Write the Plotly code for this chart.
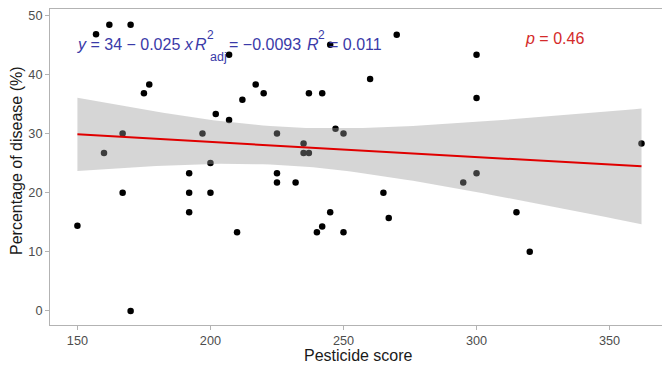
import numpy as np
import plotly.graph_objects as go

pesticide_score = [150, 157, 162, 170, 160, 167, 167, 170, 175, 177,
                   192, 192, 192, 197, 200, 200, 202, 207, 207, 210,
                   212, 217, 220, 225, 225, 225, 232, 237, 242, 235,
                   235, 237, 245, 270, 260, 247, 250, 265, 245, 242,
                   240, 250, 267, 300, 300, 362, 300, 295, 315, 320]
disease_pct = [14.4, 46.8, 48.4, 48.4, 26.7, 30.0, 20.0, 0.0, 36.8, 38.3,
               23.3, 20.0, 16.7, 30.0, 25.0, 20.0, 33.3, 32.3, 43.3, 13.3,
               35.7, 38.3, 36.8, 30.0, 23.3, 21.7, 21.7, 36.8, 36.8, 28.3,
               26.7, 26.7, 45.0, 46.7, 39.2, 30.8, 30.0, 20.0, 16.7, 14.3,
               13.3, 13.3, 15.7, 43.3, 36.0, 28.3, 23.3, 21.7, 16.7, 10.0]

x_ticks = [150, 200, 250, 300, 350]
y_ticks = [0, 10, 20, 30, 40, 50]

x_title = "Pesticide score"
y_title = "Percentage of disease (%)"

x = np.array(pesticide_score, dtype=float)
y = np.array(disease_pct, dtype=float)
n = len(x)
b1, b0 = np.polyfit(x, y, 1)
xs = np.linspace(x.min(), x.max(), 80)
ys = b0 + b1 * xs
resid = y - (b0 + b1 * x)
s = np.sqrt(np.sum(resid ** 2) / (n - 2))
xbar = x.mean()
sxx = np.sum((x - xbar) ** 2)
tcrit = 2.0106
se = s * np.sqrt(1.0 / n + (xs - xbar) ** 2 / sxx)
lo = ys - tcrit * se
hi = ys + tcrit * se

fig = go.Figure()
fig.add_trace(go.Scatter(x=x, y=y, mode="markers",
                         marker=dict(color="black", size=6.5), showlegend=False))
fig.add_trace(go.Scatter(x=xs, y=lo, mode="lines", line=dict(width=0),
                         showlegend=False, hoverinfo="skip"))
fig.add_trace(go.Scatter(x=xs, y=hi, mode="lines", line=dict(width=0),
                         fill="tonexty", fillcolor="rgba(153,153,153,0.4)",
                         showlegend=False, hoverinfo="skip"))
fig.add_trace(go.Scatter(x=xs, y=ys, mode="lines",
                         line=dict(color="#e00000", width=2), showlegend=False))

L, T, W, H = 50, 9, 612, 316


def px(xp):
    return (xp - L) / W


def py(yp):
    return 1 - (yp - T) / H


blue = "#3a3aa8"
font = "Liberation Sans, Arial, sans-serif"


def label(xp, yp, text, color, size, anchor="left", angle=0):
    fig.add_annotation(xref="paper", yref="paper", x=px(xp), y=py(yp),
                       xanchor=anchor, yanchor="middle", showarrow=False,
                       text=text, textangle=angle, borderpad=0,
                       font=dict(color=color, size=size, family=font))


label(76, 45, "<i>y</i> = 34 − 0.025 <i>x</i>", blue, 16)
label(194, 45, "<i>R</i>", blue, 16)
label(206, 35, "2", blue, 12)
label(209, 57, "adj", blue, 12.5)
label(228, 45, "= −0.0093", blue, 16)
label(306, 45, "<i>R</i>", blue, 16)
label(317, 35, "2", blue, 12)
label(328, 45, "= 0.011", blue, 16)
label(524, 38, "<i>p</i> = 0.46", "#d42a2a", 16)
label(358, 355, x_title, "#1a1a1a", 16, anchor="center")
label(16, 161, y_title, "#1a1a1a", 16, anchor="center", angle=-90)

axis_common = dict(showline=True, linecolor="#b3b3b3", linewidth=1, mirror=True,
                   showgrid=False, zeroline=False, ticks="outside", ticklen=4,
                   automargin=False,
                   tickcolor="#b3b3b3", tickfont=dict(color="#4d4d4d", size=12.7, family=font))
fig.update_xaxes(range=[139.7, 369.7], tickvals=x_ticks, **axis_common)
fig.update_yaxes(range=[-2.37, 51.05], tickvals=y_ticks, **axis_common)

fig.update_layout(width=662, height=367, margin=dict(l=L, r=0, t=T, b=367 - T - H),
                  plot_bgcolor="white", paper_bgcolor="white", font=dict(family=font))
fig.write_html("out.html", config={"displayModeBar": False},
               post_script="document.body.style.margin='0px';")
